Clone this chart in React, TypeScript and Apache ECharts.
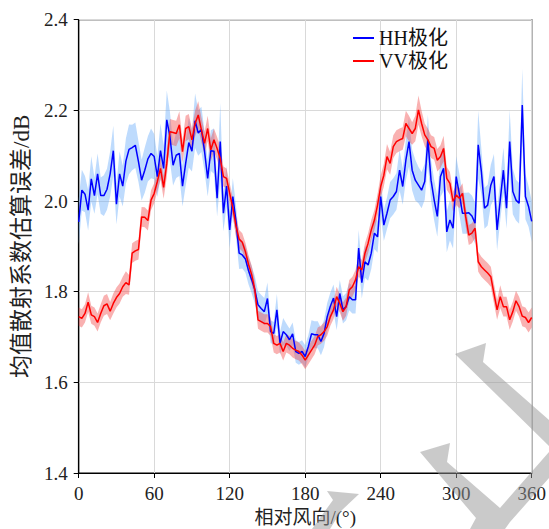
import React, { useEffect, useRef } from "react";
import * as echarts from "echarts";

const STEP = 2.5;

const hhValues = [
  1.954, 2.024, 2.015, 1.980, 2.049, 2.012, 2.060, 2.012, 2.012, 2.026,
  2.060, 2.111, 1.993, 2.060, 2.033, 2.088, 2.114, 2.118, 2.123, 2.087,
  2.046, 2.068, 2.093, 2.105, 2.098, 2.054, 2.111, 2.072, 2.179, 2.142,
  2.079, 2.101, 2.105, 2.033, 2.083, 2.129, 2.110, 2.177, 2.150, 2.158,
  2.110, 2.050, 2.111, 2.110, 2.006, 2.131, 1.973, 2.033, 1.936, 2.010,
  1.955, 1.885, 1.881, 1.872, 1.846, 1.826, 1.804, 1.771, 1.763, 1.756,
  1.785, 1.712, 1.708, 1.760, 1.686, 1.712, 1.705, 1.694, 1.707, 1.668,
  1.664, 1.668, 1.657, 1.679, 1.707, 1.705, 1.705, 1.690, 1.708, 1.745,
  1.768, 1.786, 1.745, 1.796, 1.760, 1.767, 1.789, 1.782, 1.782, 1.896,
  1.820, 1.866, 1.859, 1.885, 1.929, 1.921, 2.010, 1.947, 1.973, 2.002,
  2.010, 2.021, 2.068, 2.032, 2.090, 2.131, 2.068, 2.046, 2.035, 2.024,
  2.043, 2.135, 2.046, 2.002, 1.966, 2.054, 2.072, 1.932, 1.958, 1.940,
  2.054, 2.015, 1.973, 1.973, 1.974, 1.967, 1.951, 2.124, 2.065, 1.984,
  1.991, 2.035, 2.054, 1.936, 2.002, 2.068, 1.984, 2.131, 2.021, 2.002,
  1.995, 2.212, 2.010, 1.988, 1.955,
];

const vvValues = [
  1.745, 1.741, 1.752, 1.777, 1.749, 1.745, 1.732, 1.752, 1.769, 1.773,
  1.757, 1.774, 1.787, 1.796, 1.811, 1.820, 1.815, 1.885, 1.890, 1.893,
  1.965, 1.964, 1.957, 2.002, 2.017, 2.043, 2.072, 2.030, 2.083, 2.153,
  2.151, 2.149, 2.168, 2.109, 2.160, 2.164, 2.135, 2.171, 2.190, 2.157,
  2.127, 2.160, 2.113, 2.135, 2.116, 2.094, 2.054, 2.050, 2.017, 1.985,
  1.945, 1.916, 1.909, 1.888, 1.860, 1.837, 1.804, 1.738, 1.734, 1.730,
  1.730, 1.723, 1.686, 1.682, 1.686, 1.668, 1.686, 1.682, 1.675, 1.671,
  1.668, 1.660, 1.649, 1.660, 1.671, 1.682, 1.701, 1.705, 1.712, 1.723,
  1.745, 1.760, 1.789, 1.774, 1.756, 1.767, 1.804, 1.811, 1.826, 1.855,
  1.848, 1.885, 1.907, 1.936, 1.958, 1.991, 2.032, 2.057, 2.098, 2.083,
  2.120, 2.131, 2.135, 2.138, 2.171, 2.160, 2.149, 2.160, 2.201, 2.171,
  2.146, 2.135, 2.120, 2.116, 2.090, 2.098, 2.116, 2.050, 2.039, 1.999,
  2.013, 2.006, 2.017, 1.966, 1.925, 1.929, 1.940, 1.866, 1.855, 1.848,
  1.841, 1.833, 1.796, 1.760, 1.789, 1.767, 1.767, 1.738, 1.756, 1.780,
  1.767, 1.746, 1.743, 1.732, 1.743,
];

// half-width of the shaded uncertainty band around each line
const hhSpread = [
  0.050, 0.045, 0.040, 0.045, 0.050, 0.040, 0.045, 0.040, 0.045, 0.045,
  0.050, 0.055, 0.045, 0.050, 0.045, 0.050, 0.055, 0.050, 0.050, 0.045,
  0.045, 0.050, 0.050, 0.055, 0.050, 0.045, 0.060, 0.050, 0.065, 0.055,
  0.045, 0.050, 0.050, 0.045, 0.050, 0.055, 0.045, 0.060, 0.050, 0.050,
  0.045, 0.040, 0.045, 0.050, 0.040, 0.085, 0.040, 0.045, 0.040, 0.040,
  0.035, 0.035, 0.030, 0.030, 0.030, 0.030, 0.030, 0.030, 0.030, 0.030,
  0.035, 0.025, 0.025, 0.035, 0.025, 0.030, 0.025, 0.025, 0.025, 0.025,
  0.025, 0.025, 0.025, 0.025, 0.030, 0.030, 0.030, 0.030, 0.030, 0.030,
  0.030, 0.030, 0.030, 0.030, 0.030, 0.030, 0.030, 0.030, 0.030, 0.040,
  0.035, 0.035, 0.035, 0.035, 0.035, 0.035, 0.040, 0.035, 0.035, 0.040,
  0.040, 0.040, 0.045, 0.040, 0.045, 0.055, 0.045, 0.045, 0.040, 0.040,
  0.040, 0.055, 0.045, 0.045, 0.045, 0.045, 0.050, 0.045, 0.045, 0.045,
  0.045, 0.045, 0.045, 0.045, 0.045, 0.045, 0.045, 0.075, 0.050, 0.045,
  0.045, 0.045, 0.050, 0.045, 0.045, 0.050, 0.045, 0.070, 0.050, 0.045,
  0.045, 0.080, 0.050, 0.045, 0.045,
];

const vvSpread = [
  0.020, 0.020, 0.020, 0.022, 0.020, 0.020, 0.020, 0.020, 0.022, 0.022,
  0.020, 0.022, 0.022, 0.022, 0.022, 0.025, 0.022, 0.022, 0.022, 0.022,
  0.022, 0.022, 0.022, 0.022, 0.022, 0.022, 0.025, 0.025, 0.030, 0.028,
  0.028, 0.028, 0.030, 0.025, 0.028, 0.028, 0.025, 0.028, 0.030, 0.028,
  0.025, 0.028, 0.025, 0.025, 0.025, 0.025, 0.022, 0.022, 0.022, 0.022,
  0.022, 0.020, 0.020, 0.020, 0.020, 0.020, 0.020, 0.020, 0.020, 0.020,
  0.020, 0.020, 0.020, 0.020, 0.020, 0.020, 0.020, 0.020, 0.020, 0.020,
  0.020, 0.020, 0.020, 0.020, 0.020, 0.020, 0.020, 0.020, 0.020, 0.020,
  0.020, 0.020, 0.022, 0.020, 0.020, 0.020, 0.022, 0.022, 0.022, 0.022,
  0.022, 0.022, 0.022, 0.022, 0.022, 0.025, 0.025, 0.025, 0.028, 0.025,
  0.025, 0.025, 0.025, 0.025, 0.028, 0.028, 0.025, 0.028, 0.032, 0.028,
  0.025, 0.025, 0.025, 0.025, 0.025, 0.025, 0.028, 0.025, 0.025, 0.022,
  0.022, 0.022, 0.022, 0.022, 0.022, 0.022, 0.022, 0.022, 0.022, 0.022,
  0.022, 0.022, 0.022, 0.022, 0.025, 0.022, 0.022, 0.022, 0.022, 0.022,
  0.022, 0.022, 0.022, 0.022, 0.022,
];

const xTicks = [0, 60, 120, 180, 240, 300, 360];
const yTicks = [1.4, 1.6, 1.8, 2.0, 2.2, 2.4];

const HH_NAME = "HH极化";
const VV_NAME = "VV极化";
const X_NAME = "相对风向/(°)";
const Y_NAME = "均值散射系数估算误差/dB";

const FONT = "'Liberation Serif', 'Times New Roman', 'Noto Sans CJK SC', serif";

function bandSeries(values: number[], spread: number[], color: string, z: number) {
  const data = values.map((v, i) => [i * STEP, v - spread[i], v + spread[i]]);
  return {
    type: "custom",
    silent: true,
    z,
    clip: true,
    data,
    encode: { x: 0, y: [1, 2] },
    renderItem: (params: any, api: any) => {
      if (params.dataIndex !== 0) return null;
      const upper = data.map((d) => api.coord([d[0], d[2]]));
      const lower = data.map((d) => api.coord([d[0], d[1]])).reverse();
      return {
        type: "polygon",
        shape: { points: upper.concat(lower) },
        style: { fill: color, stroke: "none" },
      };
    },
  };
}

export default function App() {
  const ref = useRef<HTMLDivElement>(null);

  useEffect(() => {
    if (!ref.current) return;
    const chart = echarts.init(ref.current, undefined, { renderer: "svg" });

    const hhLine = hhValues.map((v, i) => [i * STEP, v]);
    const vvLine = vvValues.map((v, i) => [i * STEP, v]);

    const wm = "rgba(150,150,150,0.5)";

    const option: any = {
      animation: false,
      backgroundColor: "#fff",
      textStyle: { fontFamily: FONT },
      grid: {
        left: 78.7,
        top: 19.7,
        width: 453,
        height: 453.3,
        show: true,
        borderColor: "#000",
        borderWidth: 1.2,
        backgroundColor: "transparent",
        containLabel: false,
        outerBoundsMode: "none",
      },
      legend: {
        orient: "vertical",
        left: 348,
        top: 23,
        itemWidth: 21,
        itemHeight: 2,
        itemGap: 3,
        icon: "rect",
        data: [HH_NAME, VV_NAME],
        textStyle: { fontFamily: FONT, fontSize: 20, color: "#111", padding: [0, 0, 0, 0] },
      },
      xAxis: {
        type: "value",
        min: xTicks[0],
        max: xTicks[xTicks.length - 1],
        interval: 60,
        name: X_NAME,
        nameLocation: "middle",
        nameGap: 35,
        nameTextStyle: { fontFamily: FONT, fontSize: 19, color: "#222" },
        axisLine: { show: true, lineStyle: { color: "#000", width: 1.2 } },
        axisTick: { show: true, inside: false, length: 5, lineStyle: { color: "#000" } },
        axisLabel: { fontFamily: FONT, fontSize: 19, color: "#222", margin: 11 },
        splitLine: { show: true, lineStyle: { color: "#d9d9d9", width: 1 } },
      },
      yAxis: {
        type: "value",
        min: yTicks[0],
        max: yTicks[yTicks.length - 1],
        interval: 0.2,
        name: Y_NAME,
        nameLocation: "middle",
        nameGap: 46,
        nameTextStyle: { fontFamily: FONT, fontSize: 23, color: "#222" },
        axisLine: { show: true, lineStyle: { color: "#000", width: 1.2 } },
        axisTick: { show: true, inside: false, length: 5, lineStyle: { color: "#000" } },
        axisLabel: {
          fontFamily: FONT,
          fontSize: 19,
          color: "#222",
          margin: 11,
          formatter: (v: number) => v.toFixed(1),
        },
        splitLine: { show: true, lineStyle: { color: "#d9d9d9", width: 1 } },
      },
      series: [
        bandSeries(hhValues, hhSpread, "rgba(100,170,250,0.42)", 1),
        bandSeries(vvValues, vvSpread, "rgba(240,70,70,0.42)", 2),
        {
          name: HH_NAME,
          type: "line",
          data: hhLine,
          symbol: "none",
          lineStyle: { color: "#0000ff", width: 1.5 },
          itemStyle: { color: "#0000ff" },
          z: 3,
        },
        {
          name: VV_NAME,
          type: "line",
          data: vvLine,
          symbol: "none",
          lineStyle: { color: "#ff0000", width: 1.5 },
          itemStyle: { color: "#ff0000" },
          z: 4,
        },
      ],
      graphic: [
        {
          type: "polygon",
          z: 100,
          silent: true,
          shape: { points: [[455, 354], [486, 343], [483, 362], [549, 420], [549, 446]] },
          style: { fill: wm },
        },
        {
          type: "polygon",
          z: 100,
          silent: true,
          shape: {
            points: [
              [420, 452], [450, 443], [447, 462], [500, 508], [549, 452],
              [549, 478], [510, 522], [505, 529], [470, 529], [476, 518],
            ],
          },
          style: { fill: wm },
        },
        {
          type: "polygon",
          z: 100,
          silent: true,
          shape: { points: [[327, 491], [359, 494], [341, 511], [330, 529], [312, 529], [333, 500]] },
          style: { fill: wm },
        },
      ],
    };

    chart.setOption(option);
    return () => chart.dispose();
  }, []);

  return (
    <div
      ref={ref}
      style={{ position: "fixed", left: 0, top: 0, width: 549, height: 529 }}
    />
  );
}
